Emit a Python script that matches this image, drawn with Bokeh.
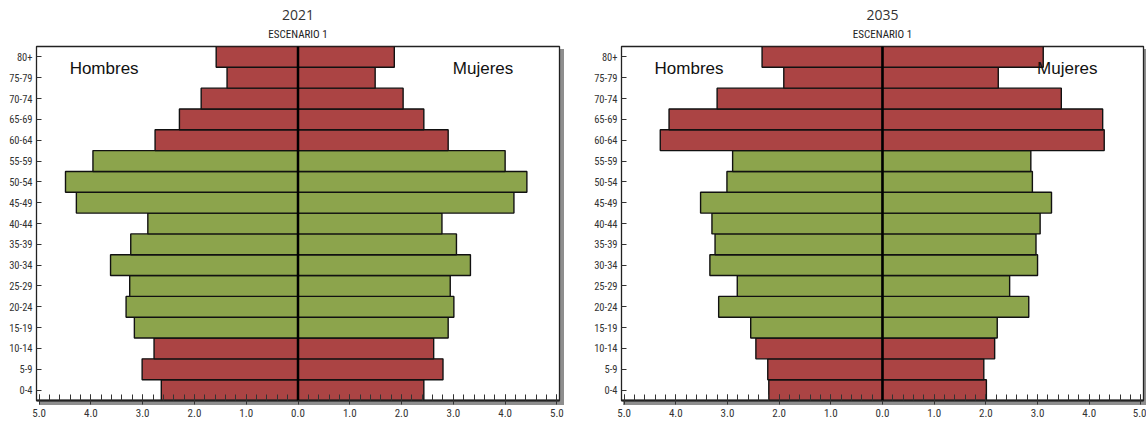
from bokeh.plotting import figure
from bokeh.layouts import row
from bokeh.models import (ColumnDataSource, FactorRange, Range1d, FixedTicker,
                          CustomJSTickFormatter, Span, Label, Title)
from bokeh.transform import factor_cmap
from bokeh.embed import file_html
from bokeh.resources import INLINE

# ---------------- data ----------------
edades = ["0-4", "5-9", "10-14", "15-19", "20-24", "25-29", "30-34", "35-39",
          "40-44", "45-49", "50-54", "55-59", "60-64", "65-69", "70-74",
          "75-79", "80+"]
grupo = (["dependiente"] * 3) + (["activa"] * 9) + (["dependiente"] * 5)

hombres_2021 = [2.64, 3.01, 2.78, 3.16, 3.32, 3.25, 3.62, 3.23, 2.90, 4.28,
                4.49, 3.96, 2.76, 2.29, 1.87, 1.37, 1.58]
mujeres_2021 = [2.43, 2.80, 2.62, 2.90, 3.01, 2.94, 3.33, 3.06, 2.78, 4.17,
                4.42, 4.00, 2.90, 2.43, 2.03, 1.49, 1.86]

hombres_2035 = [2.20, 2.22, 2.45, 2.55, 3.17, 2.81, 3.34, 3.24, 3.30, 3.52,
                3.01, 2.90, 4.30, 4.13, 3.20, 1.91, 2.33]
mujeres_2035 = [2.01, 1.96, 2.17, 2.22, 2.83, 2.46, 3.00, 2.97, 3.05, 3.27,
                2.90, 2.87, 4.29, 4.26, 3.46, 2.24, 3.11]

x_ticks = [-5, -4, -3, -2, -1, 0, 1, 2, 3, 4, 5]
x_minor = [round(-5 + 0.2 * i, 1) for i in range(51)]
titulo_sub = "ESCENARIO 1"

# ---------------- styles ----------------
ROJO = "#AB4444"
VERDE = "#8CA44C"
TXT = "#333333"
SOMBRA = "#8E8E8E"
NARROW = "'Liberation Sans Narrow', 'Arial Narrow', 'Roboto Condensed', sans-serif"
HEIGHT = 423
TOP = 46
BOTTOM = 23
FRAME_H = HEIGHT - TOP - BOTTOM


def panel(anio, hombres, mujeres, width, b_left, b_right):
    frame_w = width - b_left - b_right
    src = ColumnDataSource(dict(
        edad=edades,
        grupo=grupo,
        hombres=[-v for v in hombres],
        mujeres=mujeres,
    ))
    p = figure(width=width, height=HEIGHT, output_backend="svg",
               toolbar_location=None, tools="",
               x_range=Range1d(-5.05, 5.05),
               y_range=FactorRange(*edades, range_padding=0),
               min_border_left=b_left, min_border_right=b_right,
               min_border_top=TOP, min_border_bottom=BOTTOM)
    p.background_fill_color = "white"
    p.border_fill_color = None
    p.outline_line_color = "#222222"
    p.outline_line_width = 1.3
    p.xgrid.visible = False
    p.ygrid.visible = False

    # drop shadow of the plotting frame (right and bottom), drawn behind canvas
    p.styles = {
        "background-color": "white",
        "background-image": ("linear-gradient(%s,%s), linear-gradient(%s,%s)"
                             % (SOMBRA, SOMBRA, SOMBRA, SOMBRA)),
        "background-size": "4px %dpx, %dpx 4px" % (FRAME_H + 2, frame_w + 2),
        "background-position": "%dpx %dpx, %dpx %dpx" % (
            b_left + frame_w + 1, TOP + 3, b_left + 3, TOP + FRAME_H + 1),
        "background-repeat": "no-repeat",
    }

    cmap = factor_cmap("grupo", palette=[ROJO, VERDE],
                       factors=["dependiente", "activa"])
    p.hbar(y="edad", left="hombres", right=0, height=1.0, source=src,
           fill_color=cmap, line_color="#111111", line_width=1.4)
    p.hbar(y="edad", left=0, right="mujeres", height=1.0, source=src,
           fill_color=cmap, line_color="#111111", line_width=1.4)

    p.add_layout(Span(location=0, dimension="height", line_color="black",
                      line_width=2.5))

    # x axis
    xa = p.xaxis[0]
    xa.ticker = FixedTicker(ticks=x_ticks, minor_ticks=x_minor)
    xa.formatter = CustomJSTickFormatter(code="return Math.abs(tick).toFixed(1);")
    xa.axis_line_color = "#222222"
    xa.axis_line_width = 2
    xa.major_tick_line_color = TXT
    xa.minor_tick_line_color = TXT
    xa.major_tick_in = 6
    xa.major_tick_out = 4
    xa.minor_tick_in = 6
    xa.minor_tick_out = 0
    xa.major_label_standoff = 4
    xa.major_label_text_font = NARROW
    xa.major_label_text_font_size = "11px"
    xa.major_label_text_color = TXT

    # y axis
    ya = p.yaxis[0]
    ya.axis_line_color = "#222222"
    ya.major_tick_line_color = TXT
    ya.major_tick_in = 5
    ya.major_tick_out = 0
    ya.minor_tick_line_color = None
    ya.major_label_standoff = 4
    ya.major_label_text_font = NARROW
    ya.major_label_text_font_size = "10.5px"
    ya.major_label_text_color = TXT

    # titles (first added sits closest to the frame)
    p.add_layout(Title(text=titulo_sub, align="center", standoff=12,
                       text_font=NARROW, text_font_size="11px",
                       text_font_style="normal", text_color="#222222"), "above")
    p.add_layout(Title(text=str(anio), align="center", standoff=0,
                       text_font="Open Sans", text_font_size="14px",
                       text_font_style="normal", text_color=TXT), "above")

    # sex labels
    p.add_layout(Label(x=-4.41, y=15.93, text="Hombres", text_align="left",
                       text_baseline="middle", text_font="Liberation Sans",
                       text_font_size="17px", text_color="#111111"))
    p.add_layout(Label(x=2.99, y=15.93, text="Mujeres", text_align="left",
                       text_baseline="middle", text_font="Liberation Sans",
                       text_font_size="17px", text_color="#111111"))
    return p


p1 = panel(2021, hombres_2021, mujeres_2021, 591, 36, 32)
p2 = panel(2035, hombres_2035, mujeres_2035, 555, 29, 3)
layout = row(p1, p2)

open("out.html", "w").write(file_html(layout, INLINE))
